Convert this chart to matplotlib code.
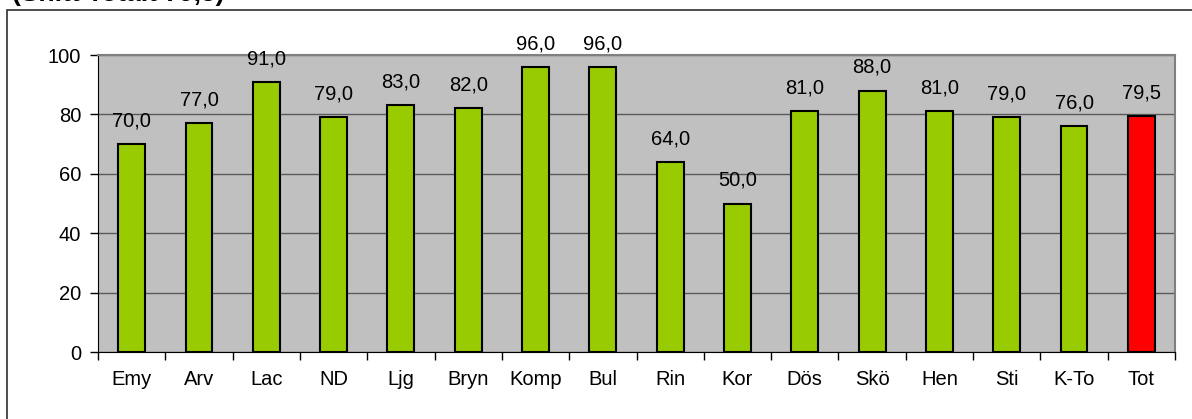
import matplotlib.pyplot as plt
from matplotlib.patches import Rectangle
import numpy as np

plt.rcParams['font.family'] = ['Liberation Sans', 'DejaVu Sans']

categories = ['Emy', 'Arv', 'Lac', 'ND', 'Ljg', 'Bryn', 'Komp', 'Bul', 'Rin',
              'Kor', 'Dös', 'Skö', 'Hen', 'Sti', 'K-To', 'Tot']
values = [70.0, 77.0, 91.0, 79.0, 83.0, 82.0, 96.0, 96.0, 64.0,
          50.0, 81.0, 88.0, 81.0, 79.0, 76.0, 79.5]
title = '(Snitt Totalt 79,5)'

fig = plt.figure(figsize=(11.92, 4.19), dpi=100)
# outer chart frame
fig.patches.append(Rectangle((7 / 1192, -0.1), 1.2, 1 - 10 / 419 + 0.1,
                             transform=fig.transFigure, fill=False,
                             edgecolor='#303030', linewidth=1.2))
# title sits mostly above the picture, only its bottom shows
fig.text(12 / 1192, 1 - 0.5 / 419, title, fontsize=19, fontweight='bold',
         ha='left', va='baseline')

ax = fig.add_axes([98 / 1192, 1 - 352 / 419, (1175 - 98) / 1192, (352 - 55) / 419])
ax.set_facecolor('#C0C0C0')
x = np.arange(len(categories))
colors = ['#99CC00'] * (len(categories) - 1) + ['#FF0000']
ax.bar(x, values, width=0.4, color=colors, edgecolor='black', linewidth=1.5, zorder=3)
for xi, v in zip(x, values):
    ax.text(xi, v + 4.6, f'{v:.1f}'.replace('.', ','), ha='center', va='bottom',
            fontsize=14.5)

ax.set_xlim(-0.5, len(categories) - 0.5)
ax.set_ylim(0, 100)
ax.set_yticks(range(0, 101, 20))
ax.yaxis.grid(True, color='#5a5a5a', linewidth=1.0, zorder=1)
ax.set_axisbelow(True)
ax.set_xticks(x)
ax.set_xticklabels(categories, fontsize=14.5)
ax.tick_params(axis='x', length=0, pad=13)
ax.set_xticks(np.arange(-0.5, len(categories), 1), minor=True)
ax.tick_params(axis='x', which='minor', length=6, color='black', width=1)
ax.tick_params(axis='y', labelsize=14.5, length=6, width=1, pad=6)
for side in ['top', 'right']:
    ax.spines[side].set_color('#808080')
    ax.spines[side].set_linewidth(1.5)
ax.spines['left'].set_color('black')
ax.spines['bottom'].set_color('black')

fig.savefig('out.png', dpi=100)
